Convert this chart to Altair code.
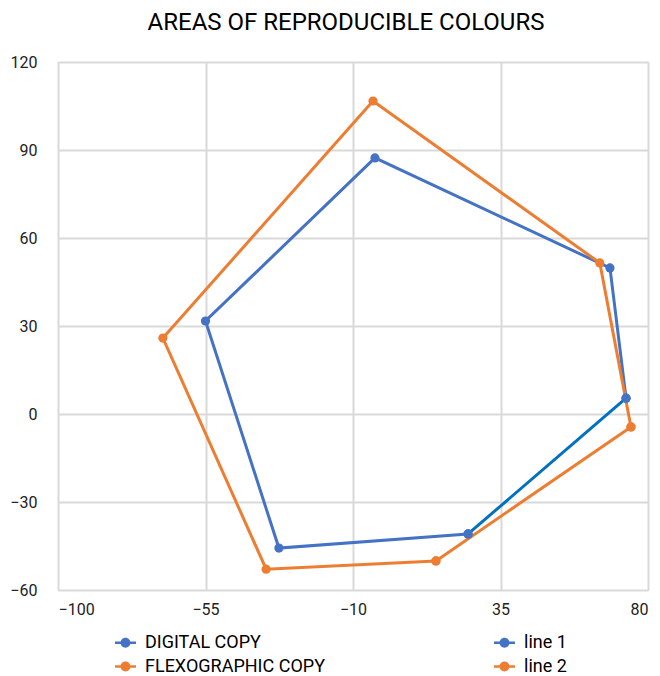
import altair as alt
import pandas as pd

# Gamut outlines (a*, b* style coordinates), traced in drawing order
digital_x = [73.3, 68.4, -3.3, -55.0, -32.6, 25.1]
digital_y = [5.4, 49.8, 87.3, 31.7, -45.7, -40.9]
flexo_x = [74.8, 65.3, -3.9, -68.0, -36.5, 15.3]
flexo_y = [-4.4, 51.5, 106.7, 25.9, -52.9, -50.1]

# Closing segments drawn as their own series
line1_x = [25.1, 73.3]
line1_y = [-40.9, 5.4]
line2_x = [15.3, 74.8]
line2_y = [-50.1, -4.4]

series_names = ["DIGITAL COPY", "line 1", "FLEXOGRAPHIC COPY", "line 2"]
line_colors = ["#4472C4", "#0070C0", "#ED7D31", "#ED7D31"]
point_colors = ["#4472C4", "#4472C4", "#ED7D31", "#ED7D31"]

x_ticks = [-100, -55, -10, 35, 80]
y_ticks = [-60, -30, 0, 30, 60, 90, 120]

rows = []
for name, xs, ys in [
    ("DIGITAL COPY", digital_x, digital_y),
    ("line 1", line1_x, line1_y),
    ("FLEXOGRAPHIC COPY", flexo_x, flexo_y),
    ("line 2", line2_x, line2_y),
]:
    for i, (xv, yv) in enumerate(zip(xs, ys)):
        rows.append({"series": name, "x": xv, "y": yv, "step": i})
df = pd.DataFrame(rows)

FONT = "Roboto"
LABEL_COLOR = "#222222"

x_enc = alt.X(
    "x:Q",
    scale=alt.Scale(domain=[-100, 80], nice=False, zero=False),
    axis=alt.Axis(values=x_ticks, title=None, ticks=False, labelPadding=11,
                  domain=False, gridColor="#D9D9D9", gridWidth=2,
                  labelFont=FONT, labelFontSize=16, labelColor=LABEL_COLOR),
)
y_enc = alt.Y(
    "y:Q",
    scale=alt.Scale(domain=[-60, 120], nice=False, zero=False),
    axis=alt.Axis(values=y_ticks, title=None, ticks=False, labelPadding=21,
                  domain=False, gridColor="#D9D9D9", gridWidth=2,
                  labelFont=FONT, labelFontSize=16, labelColor=LABEL_COLOR),
)

# Legend glyph: a short stroke with a dot in the middle
legend_symbol = (
    "M -1 -0.13 L 1 -0.13 L 1 0.13 L -1 0.13 Z "
    "M 0.47 0 A 0.47 0.47 0 1 1 -0.47 0 A 0.47 0.47 0 1 1 0.47 0 Z"
)

lines = alt.Chart(df).mark_line(strokeWidth=3).encode(
    x=x_enc,
    y=y_enc,
    order="step:Q",
    color=alt.Color(
        "series:N",
        scale=alt.Scale(domain=series_names, range=line_colors),
        legend=None,
    ),
)

points = alt.Chart(df).mark_circle(size=85, opacity=1).encode(
    x=x_enc,
    y=y_enc,
    color=alt.Color(
        "series:N",
        scale=alt.Scale(domain=series_names, range=point_colors),
        legend=alt.Legend(
            title=None,
            orient="none",
            legendX=57,
            legendY=570,
            direction="horizontal",
            columns=2,
            columnPadding=169,
            rowPadding=4,
            symbolType=legend_symbol,
            symbolSize=440,
            symbolStrokeWidth=0,
            symbolOpacity=1,
            labelFont=FONT,
            labelFontSize=18,
            labelColor="#000000",
            labelOffset=9,
            labelLimit=400,
        ),
    ),
)

chart = (
    alt.layer(lines, points)
    .resolve_scale(color="independent")
    .properties(
        width=590,
        height=528,
        autosize=alt.AutoSizeParams(type="none"),
        padding={"left": 58, "top": 62, "right": 12, "bottom": 86},
        title=alt.Title(
            "AREAS OF REPRODUCIBLE COLOURS",
            font=FONT,
            fontSize=24,
            fontWeight="normal",
            color="#000000",
            offset=19,
            dx=-7,
        ),
    )
    .configure_view(stroke="#D9D9D9", strokeWidth=2)
    .configure(background="white")
)

chart.save("out.html", embed_options={"renderer": "svg", "actions": False})
